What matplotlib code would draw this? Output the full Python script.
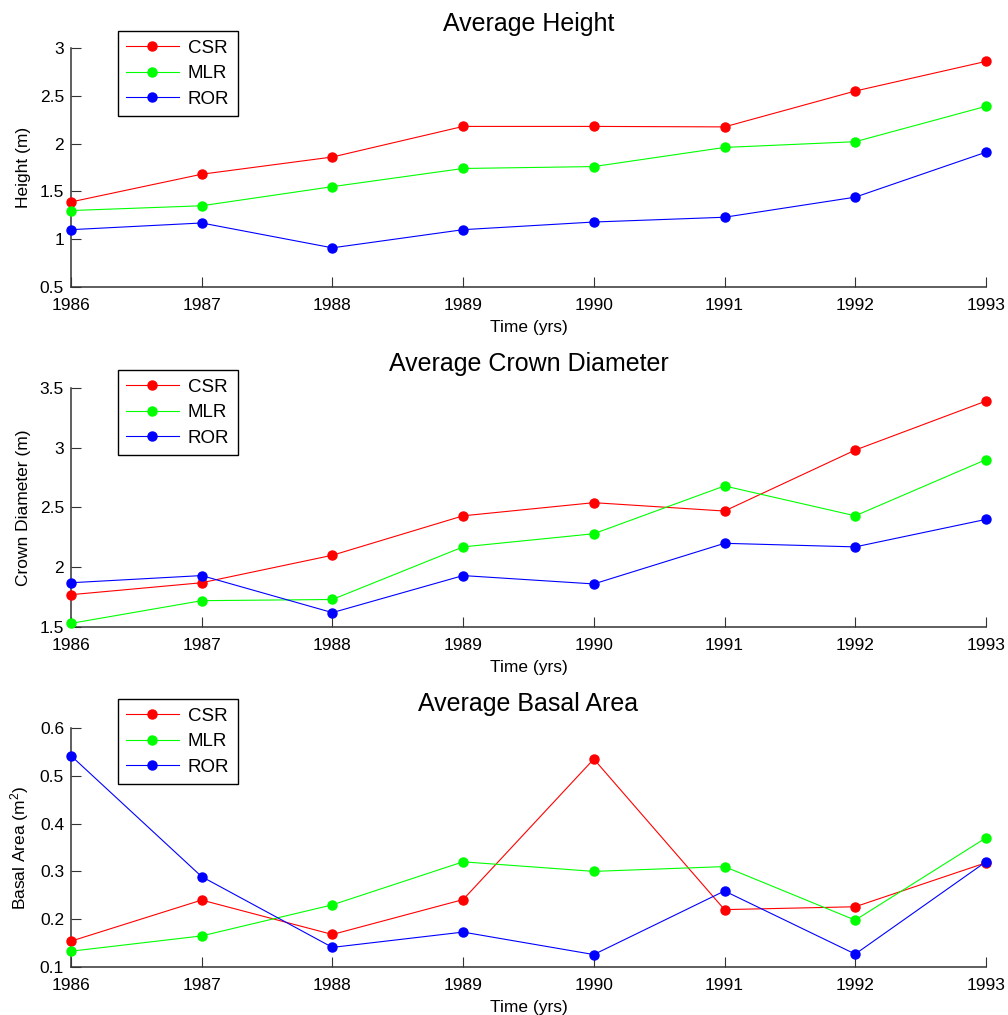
import matplotlib
matplotlib.use("Agg")
import matplotlib.pyplot as plt
from matplotlib.ticker import FormatStrFormatter

plt.rcParams["font.family"] = ["Liberation Sans", "DejaVu Sans"]
plt.rcParams["mathtext.default"] = "regular"

YEARS = [1986, 1987, 1988, 1989, 1990, 1991, 1992, 1993]
SERIES = ["CSR", "MLR", "ROR"]
COLORS = {"CSR": "#ff0000", "MLR": "#00ff00", "ROR": "#0000ff"}

HEIGHT = {
    "CSR": [1.39, 1.68, 1.86, 2.18, 2.18, 2.175, 2.55, 2.86],
    "MLR": [1.30, 1.35, 1.55, 1.74, 1.76, 1.96, 2.02, 2.39],
    "ROR": [1.10, 1.17, 0.91, 1.10, 1.18, 1.23, 1.44, 1.91],
}
CROWN = {
    "CSR": [1.77, 1.87, 2.10, 2.43, 2.54, 2.47, 2.98, 3.39],
    "MLR": [1.53, 1.72, 1.73, 2.17, 2.28, 2.68, 2.43, 2.90],
    "ROR": [1.87, 1.93, 1.62, 1.93, 1.86, 2.20, 2.17, 2.40],
}
BASAL = {
    "CSR": [0.154, 0.240, 0.168, 0.241, 0.535, 0.220, 0.226, 0.318],
    "MLR": [0.133, 0.165, 0.230, 0.320, 0.300, 0.310, 0.198, 0.370],
    "ROR": [0.542, 0.289, 0.141, 0.173, 0.126, 0.259, 0.127, 0.320],
}

PANELS = [
    ("Average Height", "Height (m)", HEIGHT, (0.5, 3.0), [0.5, 1, 1.5, 2, 2.5, 3], 0.7172, 1.071),
    ("Average Crown Diameter", "Crown Diameter (m)", CROWN, (1.5, 3.5), [1.5, 2, 2.5, 3, 3.5], 0.3823, 1.075),
    ("Average Basal Area", "Basal Area (m$^{2}$)", BASAL, (0.1, 0.6), [0.1, 0.2, 0.3, 0.4, 0.5, 0.6], 0.0473, 1.121),
]

FS = 12.5


def main():
    fig = plt.figure(figsize=(10.08, 10.15), dpi=100)

    for title, ylabel, data, ylim, yticks, bottom, leg_top in PANELS:
        ax = fig.add_axes([0.0704, bottom, 0.9077, 0.2355])
        for name in SERIES:
            ax.plot(YEARS, data[name], color=COLORS[name], linewidth=0.8,
                    marker="o", markersize=6.5, markeredgecolor=COLORS[name],
                    label=name, clip_on=False, zorder=3)

        ax.set_xlim(YEARS[0], YEARS[-1])
        ax.set_ylim(*ylim)
        ax.set_xticks(YEARS)
        ax.set_yticks(yticks)
        ax.yaxis.set_major_formatter(FormatStrFormatter("%g"))

        for side in ("top", "right"):
            ax.spines[side].set_visible(False)
        for side in ("left", "bottom"):
            ax.spines[side].set_color("0.2")
            ax.spines[side].set_linewidth(1.1)
        ax.tick_params(direction="in", length=7, width=0.8, color="0.2",
                       labelsize=FS, pad=5)
        ax.tick_params(axis="x", pad=8)

        ax.set_title(title, fontsize=18, pad=12)
        ax.set_xlabel("Time (yrs)", fontsize=FS, labelpad=5)
        ax.set_ylabel(ylabel, fontsize=FS, labelpad=6)

        leg = ax.legend(loc="upper left", bbox_to_anchor=(0.051, leg_top),
                        borderaxespad=0, fontsize=13.5, numpoints=1,
                        handlelength=2.8, handletextpad=0.5,
                        labelspacing=0.45, borderpad=0.45,
                        fancybox=False, framealpha=1)
        leg.get_frame().set_edgecolor("black")
        leg.get_frame().set_linewidth(1.0)
        leg.set_zorder(5)

    fig.savefig("out.png", dpi=100)
    plt.close(fig)


if __name__ == "__main__":
    main()
